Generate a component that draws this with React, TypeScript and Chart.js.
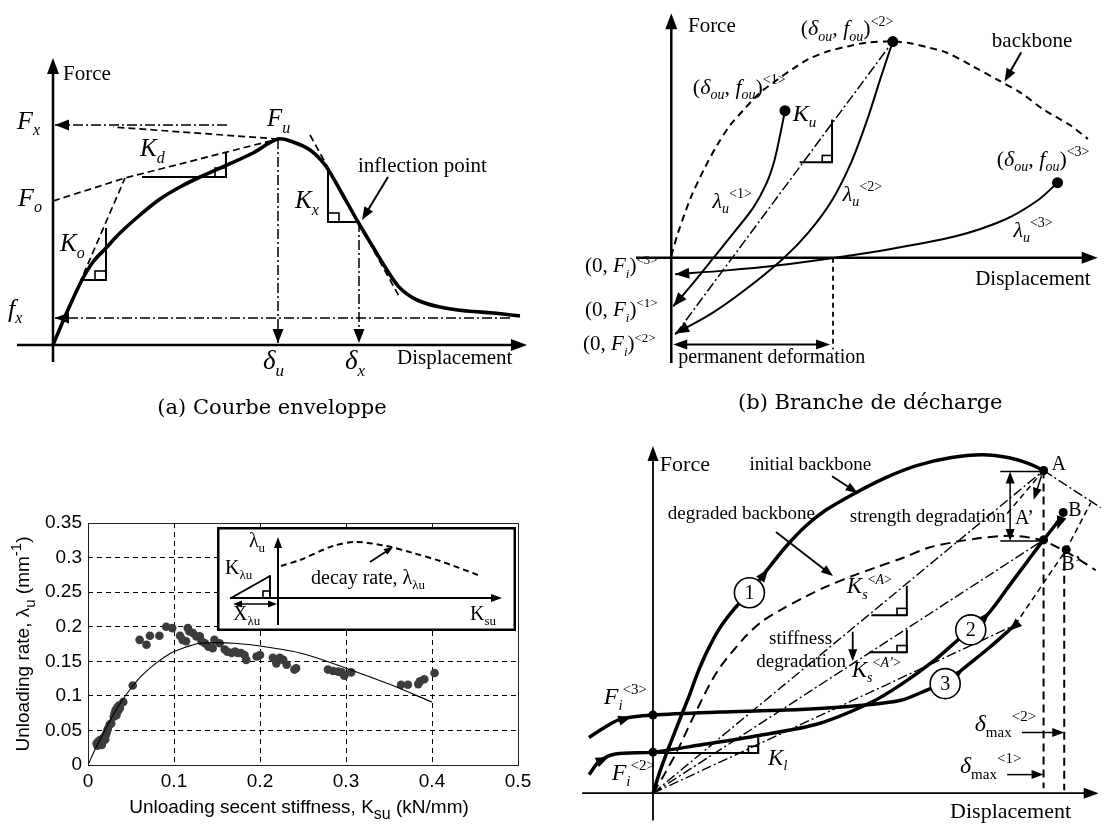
import React, { useEffect, useRef } from 'react';
import { Chart, registerables } from 'chart.js';
Chart.register(...registerables);

type P = [number, number];

const SERIF = '"Liberation Serif", "Times New Roman", serif';
const SANS = '"Liberation Sans", Arial, sans-serif';
const CAPTION = '"DejaVu Serif", serif';
const DASHDOT = [10, 3, 2, 3];

// ---------------- Panel (a) : envelope curve (units: displacement / force, arbitrary) -------------
const A_ENVELOPE: P[] = [[0, 0], [14, 33], [29, 65], [40, 83], [53, 97], [67, 112], [87, 130], [107, 146], [127, 158], [147, 168], [174, 180], [200, 192], [225, 206], [240, 203], [257, 195], [272, 180], [287, 155], [305, 123], [320, 98], [334, 75], [347, 57], [364, 45], [387, 38], [414, 34], [440, 32], [467, 29]];
const A_KO_TANGENT: P[] = [[0, 0], [72, 167]];
const A_KD_LINE: P[] = [[0, 144], [72, 167], [225, 206]];
const A_FU_TO_FX: P[] = [[225, 206], [60, 218]];
const A_KX_TANGENT: P[] = [[257, 210], [347, 47]];
const A_FX_LEVEL: P[] = [[174, 220], [2, 220]];
const A_SMALL_FX_LEVEL: P[] = [[457, 27], [2, 27]];
const A_DU_DROP: P[] = [[225, 206], [225, 2]];
const A_DX_DROP: P[] = [[306, 123], [306, 2]];
const A_KO_TRI: P[] = [[29, 65], [53, 65], [53, 117]];
const A_KD_TRI: P[] = [[89, 168], [173, 168], [173, 192]];
const A_KX_TRI: P[] = [[275, 175], [275, 123], [305, 123]];

// ---------------- Panel (b) : unloading branches -------------
const B_BACKBONE: P[] = [[0, 2], [7, 26], [20, 62], [34, 92], [47, 116], [60, 136], [74, 152], [90, 169], [107, 182], [124, 194], [140, 204], [160, 212], [180, 217], [200, 221], [226, 222], [245, 220], [262, 216], [280, 211], [307, 197], [334, 182], [357, 169], [380, 152], [407, 136], [425, 122]];
const B_PEAKS: P[] = [[116, 151], [226, 222], [394, 77]];
const B_UNLOAD_1: P[] = [[116, 151], [111, 126], [105, 99], [97, 76], [84, 52], [64, 26], [44, 1], [24, -24], [2, -50]];
const B_UNLOAD_2: P[] = [[226, 222], [214, 186], [200, 142], [184, 99], [164, 59], [140, 26], [114, -1], [74, -34], [40, -58], [4, -78]];
const B_UNLOAD_3: P[] = [[394, 77], [374, 59], [340, 39], [290, 22], [224, 9], [167, 0], [107, -8], [57, -13], [4, -17]];
const B_SECANT: P[] = [[4, -79], [226, 222]];
const B_KU_TRI: P[] = [[131, 98], [164, 98], [164, 142]];
const B_PERM_DROP: P[] = [[165, 0], [165, -94]];

// ---------------- Panel (c) : measured unloading rate -------------
const C_X_TICKS = ['0', '0.1', '0.2', '0.3', '0.4', '0.5'];
const C_Y_TICKS = ['0', '0.05', '0.1', '0.15', '0.2', '0.25', '0.3', '0.35'];
const C_POINTS: P[] = [[0.010, 0.031], [0.011, 0.028], [0.012, 0.034], [0.013, 0.030], [0.014, 0.036], [0.015, 0.032], [0.016, 0.029], [0.017, 0.038], [0.018, 0.035], [0.019, 0.041], [0.020, 0.037], [0.021, 0.044], [0.022, 0.048], [0.023, 0.052], [0.025, 0.058], [0.027, 0.060], [0.030, 0.070], [0.031, 0.075], [0.032, 0.079], [0.033, 0.072], [0.034, 0.083], [0.035, 0.078], [0.036, 0.086], [0.037, 0.082], [0.041, 0.091], [0.052, 0.115],
  [0.060, 0.181], [0.068, 0.174], [0.072, 0.187], [0.083, 0.187], [0.091, 0.200], [0.098, 0.198], [0.107, 0.187], [0.110, 0.181], [0.114, 0.179], [0.116, 0.198], [0.118, 0.193], [0.122, 0.191], [0.126, 0.186], [0.130, 0.186], [0.132, 0.179], [0.136, 0.176], [0.140, 0.171], [0.145, 0.169], [0.147, 0.181], [0.153, 0.176], [0.159, 0.167], [0.162, 0.164], [0.167, 0.162], [0.171, 0.164], [0.174, 0.162], [0.178, 0.162], [0.182, 0.159], [0.184, 0.152], [0.196, 0.157], [0.200, 0.159], [0.215, 0.155], [0.219, 0.147], [0.223, 0.155], [0.227, 0.152], [0.231, 0.145], [0.240, 0.138], [0.242, 0.140], [0.279, 0.138], [0.285, 0.136], [0.291, 0.135], [0.295, 0.134], [0.298, 0.129], [0.306, 0.134], [0.364, 0.116], [0.372, 0.116], [0.384, 0.117], [0.386, 0.121], [0.391, 0.124], [0.403, 0.133]];
const C_FIT: P[] = [[0, 0], [0.01, 0.027], [0.02, 0.051], [0.03, 0.074], [0.04, 0.094], [0.05, 0.111], [0.06, 0.126], [0.07, 0.138], [0.08, 0.148], [0.09, 0.157], [0.10, 0.164], [0.11, 0.169], [0.12, 0.173], [0.13, 0.176], [0.15, 0.177], [0.17, 0.176], [0.20, 0.172], [0.25, 0.161], [0.30, 0.140], [0.35, 0.117], [0.40, 0.091]];
// inset schematic
const I_DECAY: P[] = [[3, 32], [22, 38], [55, 52], [78, 56], [108, 52], [135, 45], [162, 37], [200, 23]];
const I_TRI: P[] = [[-47, 0], [-8, 22], [-8, 0]];

// ---------------- Panel (d) : reloading branches -------------
const D_INITIAL: P[] = [[0, 0], [7, 22], [15, 44], [22, 62], [29, 80], [37, 100], [45, 122], [55, 145], [68, 169], [83, 189], [98, 205], [115, 227], [135, 252], [155, 273], [175, 289], [202, 305], [235, 322], [268, 335], [302, 343], [335, 346], [362, 343], [382, 337], [397, 330]];
const D_DEGRADED: P[] = [[0, 0], [12, 20], [25, 44], [42, 80], [65, 124], [92, 158], [110, 175], [129, 187], [155, 201], [178, 212], [205, 223], [227, 231], [255, 241], [280, 251], [308, 257], [333, 261], [355, 263], [369, 263], [385, 261], [397, 258], [410, 252], [425, 244], [450, 228]];
const D_RELOAD_2: P[] = [[-65, 19], [-55, 32], [-38, 40], [0, 42], [52, 50], [108, 59], [168, 71], [222, 93], [252, 111], [285, 135], [308, 155], [323, 167], [342, 185], [362, 212], [382, 239], [397, 259], [415, 282]];
const D_RELOAD_3: P[] = [[-65, 57], [-48, 68], [-32, 76], [0, 80], [68, 83], [135, 85], [202, 89], [252, 95], [282, 107], [297, 112], [315, 127], [342, 149], [368, 172]];
const D_FI_DOTS: P[] = [[0, 80], [0, 42]];
const D_KEY_POINTS: P[] = [[397, 330], [397, 259], [417, 287], [420, 249]];
const D_SECANT_A: P[] = [[0, 0], [397, 330]];
const D_SECANT_A2: P[] = [[0, 0], [397, 259]];
const D_SECANT_3: P[] = [[0, 0], [368, 172]];
const D_TARGET_B2: P[] = [[368, 172], [420, 249], [445, 297]];
const D_POST_A: P[] = [[397, 330], [455, 292]];
const D_DROP_A: P[] = [[397, 330], [397, 5]];
const D_DROP_B: P[] = [[418, 249], [418, 3]];
const D_RELOAD_A: P[] = [[360, 286], [397, 330]];
const D_KSA_TRI: P[] = [[222, 182], [258, 182], [258, 212]];
const D_KSA2_TRI: P[] = [[220, 144], [258, 144], [258, 167]];
const D_KL_TRI: P[] = [[0, 41], [107, 41], [107, 57]];
const D_STRENGTH_TOP: P[] = [[353, 329], [397, 329]];
const D_STRENGTH_BOT: P[] = [[353, 258], [397, 258]];

// ---------------- helpers -------------
type Run = { text: string; italic: boolean; level: number };
function parseRich(s: string): Run[] {
  const runs: Run[] = [];
  let italic = false, level = 0, buf = '';
  const flush = () => { if (buf) { runs.push({ text: buf, italic, level }); buf = ''; } };
  for (let i = 0; i < s.length; i++) {
    const c = s[i];
    if (c === '$') { flush(); italic = !italic; continue; }
    if ((c === '_' || c === '^') && s[i + 1] === '{') { flush(); level = c === '_' ? -1 : 1; i++; continue; }
    if (c === '}' && level !== 0) { flush(); level = 0; continue; }
    buf += c;
  }
  flush();
  return runs;
}
type RichOpt = { size: number; family: string; align?: string; rot?: number; sub?: number; subDy?: number; supDy?: number };
function drawRich(ctx: any, s: string, x: number, y: number, o: RichOpt) {
  const runs = parseRich(s);
  const sc = o.sub ?? 0.62;
  const fontOf = (r: Run) => `${r.italic ? 'italic ' : ''}${r.level ? Math.round(o.size * sc) : o.size}px ${o.family}`;
  let total = 0;
  const widths = runs.map(r => { ctx.font = fontOf(r); const w = ctx.measureText(r.text).width; total += w; return w; });
  ctx.save();
  ctx.translate(x, y);
  if (o.rot) ctx.rotate(o.rot);
  let cx = o.align === 'center' ? -total / 2 : o.align === 'right' ? -total : 0;
  const base = 0.33 * o.size;
  ctx.textBaseline = 'alphabetic';
  ctx.textAlign = 'left';
  ctx.fillStyle = '#000';
  runs.forEach((r, i) => {
    ctx.font = fontOf(r);
    const dy = r.level === -1 ? (o.subDy ?? 0.25) * o.size : r.level === 1 ? -(o.supDy ?? 0.42) * o.size : 0;
    ctx.fillText(r.text, cx, base + dy);
    cx += widths[i];
  });
  ctx.restore();
}
function drawHead(ctx: any, tip: P, from: P, hl: number, hw: number) {
  const dx = tip[0] - from[0], dy = tip[1] - from[1];
  const L = Math.hypot(dx, dy) || 1, ux = dx / L, uy = dy / L;
  const bx = tip[0] - ux * hl, by = tip[1] - uy * hl;
  ctx.beginPath();
  ctx.moveTo(tip[0], tip[1]);
  ctx.lineTo(bx - uy * hw, by + ux * hw);
  ctx.lineTo(bx + uy * hw, by - ux * hw);
  ctx.closePath();
  ctx.fill();
}
const xy = (p: P[]) => p.map(([x, y]) => ({ x, y }));
function line(p: P[], w: number, dash: number[] = [], tension = 0) {
  return { data: xy(p), showLine: true, borderColor: '#000', backgroundColor: '#000', borderWidth: w, borderDash: dash, pointRadius: 0, pointHoverRadius: 0, tension, fill: false, borderCapStyle: 'butt', borderJoinStyle: 'round' };
}
function dots(p: P[], r: number, color = '#000') {
  return { data: xy(p), showLine: false, pointRadius: r, pointHoverRadius: r, pointBackgroundColor: color, pointBorderColor: color, pointBorderWidth: 0 };
}
type Head = { at: P; dir: P; hl?: number; hw?: number };
type Arrow = { from: P; to: P; w?: number; both?: boolean; hl?: number; hw?: number };
type Label = { t: string; at: P; size: number; al?: string; fam?: string; sub?: number };
type Spec = { frame?: boolean; labels?: Label[]; arrows?: Arrow[]; heads?: Head[]; boxes?: [P, P][]; circles?: { at: P; t: string }[]; sub?: number };
function endHead(p: P[], hl = 13, hw = 5): Head {
  const a = p[p.length - 1], b = p[p.length - 2];
  return { at: a, dir: [a[0] - b[0], a[1] - b[1]], hl, hw };
}
function annot(spec: Spec) {
  return {
    id: 'annot',
    beforeDraw(chart: any) {
      const { ctx, width, height } = chart;
      ctx.save(); ctx.fillStyle = '#fff'; ctx.fillRect(0, 0, width, height); ctx.restore();
    },
    afterDraw(chart: any) {
      const ctx = chart.ctx;
      const px = (p: P): P => [chart.scales.x.getPixelForValue(p[0]), chart.scales.y.getPixelForValue(p[1])];
      ctx.save();
      ctx.fillStyle = '#000'; ctx.strokeStyle = '#000'; ctx.setLineDash([]);
      if (spec.frame) { ctx.lineWidth = 2.5; ctx.strokeRect(1.25, 1.25, chart.width - 2.5, chart.height - 2.5); }
      (spec.boxes || []).forEach(([a, b]) => {
        const [x1, y1] = px(a), [x2, y2] = px(b);
        ctx.lineWidth = 1.6;
        ctx.strokeRect(Math.min(x1, x2), Math.min(y1, y2), Math.abs(x2 - x1), Math.abs(y2 - y1));
      });
      (spec.arrows || []).forEach(a => {
        const f = px(a.from), t = px(a.to);
        const hl = a.hl ?? 12, hw = a.hw ?? 4.5;
        const dx = t[0] - f[0], dy = t[1] - f[1], L = Math.hypot(dx, dy) || 1, ux = dx / L, uy = dy / L;
        const s0: P = a.both ? [f[0] + ux * hl * 0.6, f[1] + uy * hl * 0.6] : f;
        const s1: P = [t[0] - ux * hl * 0.6, t[1] - uy * hl * 0.6];
        ctx.lineWidth = a.w ?? 1.8;
        ctx.beginPath(); ctx.moveTo(s0[0], s0[1]); ctx.lineTo(s1[0], s1[1]); ctx.stroke();
        drawHead(ctx, t, f, hl, hw);
        if (a.both) drawHead(ctx, f, t, hl, hw);
      });
      (spec.heads || []).forEach(h => {
        const t = px(h.at);
        const f = px([h.at[0] - h.dir[0], h.at[1] - h.dir[1]]);
        drawHead(ctx, t, f, h.hl ?? 13, h.hw ?? 5);
      });
      (spec.circles || []).forEach(c => {
        const [cx, cy] = px(c.at);
        ctx.beginPath(); ctx.arc(cx, cy, 15, 0, Math.PI * 2);
        ctx.fillStyle = '#fff'; ctx.fill();
        ctx.lineWidth = 1.6; ctx.strokeStyle = '#000'; ctx.stroke();
        ctx.fillStyle = '#000';
        drawRich(ctx, c.t, cx, cy, { size: 20, family: SERIF, align: 'center' });
      });
      (spec.labels || []).forEach(l => {
        const [x, y] = px(l.at);
        drawRich(ctx, l.t, x, y, { size: l.size, family: l.fam ?? SERIF, align: l.al ?? 'left', sub: l.sub ?? spec.sub });
      });
      ctx.restore();
    },
  };
}
function schematic(datasets: any[], xr: P, yr: P, spec: Spec) {
  return {
    type: 'scatter',
    data: { datasets },
    options: {
      animation: false, responsive: false, maintainAspectRatio: false, events: [],
      layout: { padding: 0 },
      plugins: { legend: { display: false }, tooltip: { enabled: false }, title: { display: false } },
      scales: {
        x: { type: 'linear', display: false, min: xr[0], max: xr[1] },
        y: { type: 'linear', display: false, min: yr[0], max: yr[1] },
      },
    },
    plugins: [annot(spec)],
  };
}

// ---------------- configs -------------
function configA() {
  const ds = [
    line(A_ENVELOPE, 3.6, [], 0.35),
    line(A_KO_TANGENT, 1.7, [7, 4]),
    line(A_KD_LINE, 1.7, [7, 4]),
    line(A_FU_TO_FX, 1.7, [7, 4]),
    line(A_KX_TANGENT, 1.7, [7, 4]),
    line(A_FX_LEVEL, 1.5, DASHDOT),
    line(A_SMALL_FX_LEVEL, 1.5, DASHDOT),
    line(A_DU_DROP, 1.5, DASHDOT),
    line(A_DX_DROP, 1.5, DASHDOT),
    line(A_KO_TRI, 2), line(A_KD_TRI, 2), line(A_KX_TRI, 2),
  ];
  const spec: Spec = {
    arrows: [
      { from: [0, -17], to: [0, 287], w: 2.5, hl: 16, hw: 6 },
      { from: [-36, 0], to: [474, 0], w: 2.5, hl: 16, hw: 6 },
      { from: [335, 168], to: [309, 125], w: 2, hl: 13, hw: 5 },
    ],
    heads: [endHead(A_FX_LEVEL, 14, 5.5), endHead(A_SMALL_FX_LEVEL, 14, 5.5), endHead(A_DU_DROP, 14, 5.5), endHead(A_DX_DROP, 14, 5.5)],
    boxes: [[[42, 65], [53, 74]], [[162, 168], [173, 177]], [[275, 123], [286, 132]]],
    labels: [
      { t: 'Force', at: [10, 272], size: 21 },
      { t: 'Displacement', at: [344, -12], size: 21 },
      { t: '$F$_{$x$}', at: [-36, 225], size: 26 },
      { t: '$F$_{$o$}', at: [-35, 148], size: 26 },
      { t: '$f$_{$x$}', at: [-45, 37], size: 26 },
      { t: '$K$_{$d$}', at: [87, 197], size: 25 },
      { t: '$K$_{$o$}', at: [7, 102], size: 25 },
      { t: '$F$_{$u$}', at: [214, 227], size: 25 },
      { t: '$K$_{$x$}', at: [242, 145], size: 25 },
      { t: 'inflection point', at: [305, 180], size: 21 },
      { t: '$δ$_{$u$}', at: [210, -15], size: 27 },
      { t: '$δ$_{$x$}', at: [292, -15], size: 27 },
      { t: '(a) Courbe enveloppe', at: [219, -62], size: 21, al: 'center', fam: CAPTION },
    ],
  };
  return schematic(ds, [-53, 503], [-75, 345], spec);
}

function configB() {
  const ds = [
    line(B_BACKBONE, 2, [7, 5], 0.3),
    line(B_UNLOAD_1, 2, [], 0.3),
    line(B_UNLOAD_2, 2, [], 0.3),
    line(B_UNLOAD_3, 2, [], 0.3),
    line(B_SECANT, 1.5, DASHDOT),
    line(B_KU_TRI, 2),
    line(B_PERM_DROP, 1.8, [5, 4]),
    dots(B_PEAKS, 5.5),
  ];
  const spec: Spec = {
    arrows: [
      { from: [0, -108], to: [0, 251], w: 2.5, hl: 16, hw: 6 },
      { from: [-36, 0], to: [435, 0], w: 2.5, hl: 16, hw: 6 },
      { from: [2, -89], to: [162, -89], w: 2, both: true, hl: 14, hw: 5 },
      { from: [357, 211], to: [340, 181], w: 2, hl: 13, hw: 5 },
    ],
    heads: [endHead(B_UNLOAD_1, 14, 5.5), endHead(B_UNLOAD_2, 14, 5.5), endHead(B_UNLOAD_3, 14, 5.5)],
    boxes: [[[154, 98], [164, 105]]],
    labels: [
      { t: 'Force', at: [17, 239], size: 21 },
      { t: 'Displacement', at: [310, -21], size: 21 },
      { t: '($δ$_{$ou$}, $f$_{$ou$})^{<2>}', at: [132, 236], size: 22 },
      { t: '($δ$_{$ou$}, $f$_{$ou$})^{<1>}', at: [22, 176], size: 22 },
      { t: '($δ$_{$ou$}, $f$_{$ou$})^{<3>}', at: [332, 102], size: 22 },
      { t: '$K$_{$u$}', at: [124, 149], size: 24 },
      { t: '$λ$_{$u$}^{<1>}', at: [42, 59], size: 22 },
      { t: '$λ$_{$u$}^{<2>}', at: [175, 66], size: 22 },
      { t: '$λ$_{$u$}^{<3>}', at: [349, 29], size: 22 },
      { t: 'backbone', at: [327, 224], size: 21 },
      { t: '(0, $F$_{$i$})^{<3>}', at: [-88, -8], size: 21 },
      { t: '(0, $F$_{$i$})^{<1>}', at: [-88, -53], size: 21 },
      { t: '(0, $F$_{$i$})^{<2>}', at: [-90, -88], size: 21 },
      { t: 'permanent deformation', at: [7, -101], size: 20 },
      { t: '(b) Branche de décharge', at: [203, -148], size: 21, al: 'center', fam: CAPTION },
    ],
  };
  return schematic(ds, [-112, 445], [-161, 259], spec);
}

const tickLabel = (arr: string[], v: number) => arr.find(s => Math.abs(parseFloat(s) - v) < 1e-6) ?? '';
function configC() {
  const inner = (max: number) => (c: any) => {
    const v = c.tick ? c.tick.value : 0;
    return v <= 1e-9 || v >= max - 1e-9 ? 'rgba(0,0,0,0)' : '#000';
  };
  const deco = {
    id: 'cdeco',
    beforeDraw(chart: any) {
      const { ctx, width, height } = chart;
      ctx.save(); ctx.fillStyle = '#fff'; ctx.fillRect(0, 0, width, height); ctx.restore();
    },
    afterDraw(chart: any) {
      const { ctx, chartArea: a } = chart;
      ctx.save();
      ctx.strokeStyle = '#222'; ctx.lineWidth = 1; ctx.setLineDash([]);
      ctx.strokeRect(Math.round(a.left) + 0.5, Math.round(a.top) + 0.5, Math.round(a.right - a.left), Math.round(a.bottom - a.top));
      drawRich(ctx, 'Unloading secent stiffness, K_{su} (kN/mm)', (a.left + a.right) / 2 - 4, a.bottom + 42, { size: 19, family: SANS, align: 'center', sub: 0.85, subDy: 0.3 });
      drawRich(ctx, 'Unloading rate, λ_{u} (mm^{-1})', 23, (a.top + a.bottom) / 2, { size: 19, family: SANS, align: 'center', rot: -Math.PI / 2, sub: 0.8, subDy: 0.3, supDy: 0.45 });
      ctx.restore();
    },
  };
  const font = { family: SANS, size: 19 };
  return {
    type: 'scatter',
    data: { datasets: [line(C_FIT, 1.1, [], 0.3), dots(C_POINTS, 4.3, '#3c3c3c')] },
    options: {
      animation: false, responsive: false, maintainAspectRatio: false, events: [],
      layout: { padding: { left: 0, top: 103, right: 38, bottom: 0 } },
      plugins: { legend: { display: false }, tooltip: { enabled: false } },
      scales: {
        x: {
          type: 'linear', min: 0, max: 0.5, afterFit: (s: any) => { s.height = 64; },
          ticks: { stepSize: 0.1, autoSkip: false, maxRotation: 0, padding: 5, color: '#000', font, callback: (v: number) => tickLabel(C_X_TICKS, v) },
          grid: { drawTicks: false, lineWidth: 1, color: inner(0.5) },
          border: { display: false, dash: [5, 4] },
        },
        y: {
          type: 'linear', min: 0, max: 0.35, afterFit: (s: any) => { s.width = 88; },
          ticks: { stepSize: 0.05, autoSkip: false, padding: 6, color: '#000', font, callback: (v: number) => tickLabel(C_Y_TICKS, v) },
          grid: { drawTicks: false, lineWidth: 1, color: inner(0.35) },
          border: { display: false, dash: [5, 4] },
        },
      },
    },
    plugins: [deco],
  };
}

function configInset() {
  const ds = [line(I_DECAY, 2, [6, 4], 0.3), line(I_TRI, 2)];
  const spec: Spec = {
    frame: true,
    sub: 0.65,
    arrows: [
      { from: [0, -27], to: [0, 61], w: 2, hl: 11, hw: 4 },
      { from: [-48, 0], to: [224, 0], w: 2, hl: 11, hw: 4 },
      { from: [-45, -6], to: [-1, -6], w: 1.5, both: true, hl: 9, hw: 3.5 },
      { from: [92, 36], to: [115, 51], w: 1.8, hl: 9, hw: 3.5 },
    ],
    boxes: [[[-15, 0], [-8, 7]]],
    labels: [
      { t: 'λ_{u}', at: [-21, 58], size: 20, al: 'center' },
      { t: 'K_{λu}', at: [-53, 31], size: 20 },
      { t: 'X_{λu}', at: [-45, -15], size: 20 },
      { t: 'decay rate, λ_{λu}', at: [33, 21], size: 20 },
      { t: 'K_{su}', at: [192, -15], size: 20 },
    ],
  };
  return schematic(ds, [-61, 238], [-33, 71], spec);
}

function configD() {
  const ds = [
    line(D_DEGRADED, 2, [10, 6], 0.3),
    line(D_SECANT_A, 1.4, DASHDOT),
    line(D_SECANT_A2, 1.4, DASHDOT),
    line(D_SECANT_3, 1.4, DASHDOT),
    line(D_TARGET_B2, 1.5, [6, 4]),
    line(D_POST_A, 1.4, DASHDOT),
    line(D_DROP_A, 2, [8, 5]),
    line(D_DROP_B, 2, [8, 5]),
    line(D_RELOAD_A, 1.5, [6, 4]),
    line(D_KSA_TRI, 2), line(D_KSA2_TRI, 2), line(D_KL_TRI, 2),
    line(D_STRENGTH_TOP, 1.5), line(D_STRENGTH_BOT, 1.5),
    line(D_INITIAL, 3.5, [], 0.3),
    line(D_RELOAD_2, 3.5, [], 0.3),
    line(D_RELOAD_3, 3.5, [], 0.3),
    dots(D_FI_DOTS, 4.5),
    dots(D_KEY_POINTS, 4.5),
  ];
  const spec: Spec = {
    arrows: [
      { from: [0, -28], to: [0, 355], w: 1.8, hl: 15, hw: 5.5 },
      { from: [-72, 0], to: [453, 0], w: 1.8, hl: 15, hw: 5.5 },
      { from: [182, 324], to: [208, 307], w: 1.8 },
      { from: [125, 267], to: [183, 222], w: 1.8 },
      { from: [203, 165], to: [203, 135], w: 1.8 },
      { from: [375, 62], to: [418, 62], w: 1.5 },
      { from: [360, 19], to: [397, 19], w: 1.5 },
      { from: [395, 325], to: [387, 300], w: 1.5 },
      { from: [363, 258], to: [363, 329], w: 1.5, both: true },
    ],
    heads: [
      { at: [117, 229], dir: [18, 24] },
      { at: [-22, 78], dir: [1, 0.3] },
      { at: [-45, 37], dir: [1, 0.45] },
      { at: [342, 185], dir: [1, 1.1] },
      { at: [315, 127], dir: [1, 0.9] },
      { at: [362, 166], dir: [-1, -0.9] },
      { at: [411, 270], dir: [-0.35, -1] },
    ],
    boxes: [[[248, 182], [258, 189]], [[248, 144], [258, 151]], [[97, 41], [107, 48]]],
    circles: [{ at: [98, 205], t: '1' }, { at: [323, 167], t: '2' }, { at: [297, 112], t: '3' }],
    labels: [
      { t: 'Force', at: [7, 337], size: 22 },
      { t: 'Displacement', at: [302, -18], size: 22 },
      { t: 'initial backbone', at: [98, 337], size: 19 },
      { t: 'degraded backbone', at: [15, 287], size: 19 },
      { t: 'strength degradation', at: [200, 284], size: 19 },
      { t: 'A’', at: [368, 282], size: 20 },
      { t: 'A', at: [405, 337], size: 20 },
      { t: 'B', at: [422, 290], size: 20 },
      { t: 'B’', at: [415, 235], size: 20 },
      { t: 'stiffness', at: [118, 159], size: 19 },
      { t: 'degradation', at: [105, 135], size: 19 },
      { t: '$K$_{$s$}^{<$A$>}', at: [197, 212], size: 23 },
      { t: '$K$_{$s$}^{<$A’$>}', at: [202, 127], size: 23 },
      { t: '$K$_{$l$}', at: [117, 37], size: 23 },
      { t: '$F$_{$i$}^{<3>}', at: [-50, 99], size: 24 },
      { t: '$F$_{$i$}^{<2>}', at: [-42, 22], size: 24 },
      { t: '$δ$_{max}^{<2>}', at: [327, 72], size: 24 },
      { t: '$δ$_{max}^{<1>}', at: [312, 29], size: 24 },
    ],
  };
  return schematic(ds, [-94, 463], [-32, 377], spec);
}

const PANELS = [
  { key: 'a', left: 0, top: 0, w: 556, h: 420, make: configA },
  { key: 'b', left: 556, top: 0, w: 557, h: 420, make: configB },
  { key: 'c', left: 0, top: 420, w: 556, h: 409, make: configC },
  { key: 'd', left: 556, top: 420, w: 557, h: 409, make: configD },
  { key: 'i', left: 217, top: 527, w: 299, h: 104, make: configInset },
];

export default function App() {
  const refs = useRef<(HTMLCanvasElement | null)[]>([]);
  useEffect(() => {
    const charts = PANELS.map((p, i) => new Chart(refs.current[i] as HTMLCanvasElement, p.make() as any));
    return () => charts.forEach(c => c.destroy());
  }, []);
  return (
    <div style={{ position: 'absolute', left: 0, top: 0, width: 1113, height: 829, background: '#fff', overflow: 'hidden' }}>
      {PANELS.map((p, i) => (
        <canvas
          key={p.key}
          ref={el => { refs.current[i] = el; }}
          width={p.w}
          height={p.h}
          style={{ position: 'absolute', left: p.left, top: p.top, width: p.w, height: p.h }}
        />
      ))}
    </div>
  );
}
